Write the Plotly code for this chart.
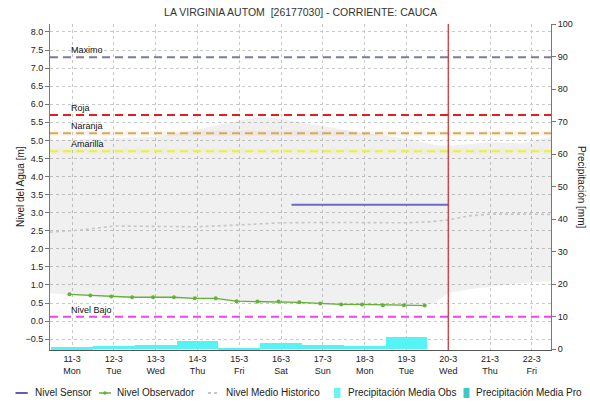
import plotly.graph_objects as go
import pandas as pd

# ---- data -------------------------------------------------------------
title = "LA VIRGINIA AUTOM  [26177030] - CORRIENTE: CAUCA"

day_ticks = pd.date_range("2024-03-11", "2024-03-22", freq="D")
tick_text = [f"{d.day}-{d.month}<br>{d.strftime('%a')}" for d in day_ticks]

x_start = "2024-03-10 11:20"
x_end = "2024-03-22 11:00"
forecast_start = "2024-03-20 00:00"

# Nivel Sensor (m)
sensor_t = ["2024-03-16 06:00", "2024-03-20 00:00"]
sensor_v = [3.22, 3.22]

# Nivel Observador (m), twice a day
obs_t = pd.date_range("2024-03-10 22:30", periods=18, freq="12h")
obs_v = [0.74, 0.71, 0.68, 0.66, 0.66, 0.66, 0.63, 0.63, 0.55,
         0.54, 0.54, 0.52, 0.49, 0.46, 0.46, 0.44, 0.44, 0.43]

# Nivel Medio Historico (m)
hist_t = ["2024-03-10 11:20", "2024-03-11 05:00", "2024-03-12 00:00",
          "2024-03-13 00:00", "2024-03-14 00:00", "2024-03-15 00:00",
          "2024-03-16 00:00", "2024-03-17 00:00", "2024-03-18 00:00",
          "2024-03-19 00:00", "2024-03-19 14:00", "2024-03-20 00:00",
          "2024-03-20 12:00", "2024-03-21 00:00", "2024-03-22 00:00",
          "2024-03-22 11:00"]
hist_v = [2.46, 2.52, 2.63, 2.63, 2.61, 2.66, 2.72, 2.73, 2.73,
          2.72, 2.75, 2.80, 2.91, 2.96, 2.96, 2.95]

# Historic range band (m)
band_t = ["2024-03-10 11:20", "2024-03-11 00:00", "2024-03-12 00:00",
          "2024-03-13 00:00", "2024-03-14 00:00", "2024-03-15 00:00",
          "2024-03-15 12:00", "2024-03-16 00:00", "2024-03-17 00:00",
          "2024-03-18 00:00", "2024-03-19 00:00", "2024-03-19 16:00",
          "2024-03-20 00:00", "2024-03-20 12:00", "2024-03-21 00:00",
          "2024-03-21 18:00", "2024-03-22 11:00"]
band_hi = [5.00, 5.02, 5.05, 5.10, 5.30, 5.55, 5.65, 5.60, 5.40,
           5.20, 5.05, 4.88, 4.85, 4.90, 4.95, 4.92, 5.10]
band_lo = [0.77, 0.72, 0.66, 0.62, 0.60, 0.52, 0.50, 0.50, 0.45,
           0.42, 0.40, 0.50, 0.78, 0.88, 0.94, 1.05, 1.11]

# Precipitación Media Obs (mm), daily
rain_t = pd.date_range("2024-03-11", "2024-03-19", freq="D")
rain_v = [0.6, 0.8, 1.2, 2.5, 0.2, 1.8, 1.2, 0.9, 3.8]

# Threshold levels (m)
thr_names = ["Maximo", "Roja", "Naranja", "Amarilla", "Nivel Bajo"]
thr_values = [7.3, 5.7, 5.2, 4.7, 0.12]
thr_colors = ["#787d98", "#dd2222", "#dba85a", "#eeee3c", "#ee44ee"]

# ---- figure -----------------------------------------------------------
FONT = "Liberation Sans, Arial, sans-serif"
fig = go.Figure()

# historic min/max band
fig.add_trace(go.Scatter(x=band_t, y=band_lo, mode="lines",
                         line=dict(width=0), hoverinfo="skip",
                         showlegend=False))
fig.add_trace(go.Scatter(x=band_t, y=band_hi, mode="lines",
                         line=dict(width=0), fill="tonexty",
                         fillcolor="rgba(0,0,0,0.06)", hoverinfo="skip",
                         showlegend=False))

# threshold lines
for name, val, col in zip(thr_names, thr_values, thr_colors):
    if name in ("Naranja", "Amarilla"):
        fig.add_trace(go.Scatter(x=[x_start, x_end], y=[val, val],
                                 mode="lines", hoverinfo="skip",
                                 line=dict(color=col, width=5),
                                 opacity=0.12, showlegend=False))
    fig.add_trace(go.Scatter(x=[x_start, x_end], y=[val, val],
                             mode="lines", name=name,
                             line=dict(color=col, width=2, dash="8px,5px"),
                             showlegend=False))
    fig.add_annotation(x="2024-03-10 22:00", y=val, text=name,
                       showarrow=False, xanchor="left", yanchor="bottom",
                       yshift=0, font=dict(family=FONT, size=9,
                                           color="#111"))

# historic mean level
fig.add_trace(go.Scatter(x=hist_t, y=hist_v, mode="lines",
                         name="Nivel Medio Historico",
                         line=dict(color="#c6c6c6", width=1.6, dash="dot"),
                         showlegend=False))

# sensor level
fig.add_trace(go.Scatter(x=sensor_t, y=sensor_v, mode="lines",
                         name="Nivel Sensor",
                         line=dict(color="#6a6ac2", width=2),
                         showlegend=False))

# observer level
fig.add_trace(go.Scatter(x=obs_t, y=obs_v, mode="lines+markers",
                         name="Nivel Observador",
                         line=dict(color="#62b236", width=1.3),
                         marker=dict(size=4, color="#62b236"),
                         showlegend=False))

# precipitation bars on the right axis
fig.add_trace(go.Bar(x=rain_t, y=rain_v, yaxis="y2",
                     name="Precipitación Media Obs",
                     width=86400000, marker=dict(color="#55f4f4",
                                                 line=dict(width=0)),
                     showlegend=False))

# current-time marker
fig.add_shape(type="line", xref="x", yref="paper",
              x0=forecast_start, x1=forecast_start, y0=0, y1=1,
              line=dict(color="#cc2b2b", width=1.2), layer="above")

# ---- custom legend row --------------------------------------------------
L, W, B, H = 50, 501, 350, 326


def px(x):
    return (x - L) / W


def py(y):
    return (B - y) / H


ly = 393
legend_items = [
    ("line", 15.5, 27.7, "#2a2aa0", "solid", "Nivel Sensor", 32.5),
    ("marker", 99, 111, "#62b236", "solid", "Nivel Observador", 115),
    ("line", 208, 218, "#b4b4b4", "dot", "Nivel Medio Historico", 223.5),
    ("box", 334, 340.5, "#66f4f4", None, "Precipitación Media Obs", 345.5),
    ("box", 463.5, 469.5, "#3fc6c6", None, "Precipitación Media Pro", 474),
]
for kind, a, b, col, dash, label, tx in legend_items:
    if kind == "box":
        fig.add_shape(type="rect", xref="paper", yref="paper",
                      x0=px(a), x1=px(b), y0=py(ly + 5), y1=py(ly - 5),
                      fillcolor=col, line=dict(width=0))
    else:
        fig.add_shape(type="line", xref="paper", yref="paper",
                      x0=px(a), x1=px(b), y0=py(ly), y1=py(ly),
                      line=dict(color=col, width=1.5, dash=dash))
        if kind == "marker":
            fig.add_shape(type="circle", xref="paper", yref="paper",
                          x0=px((a + b) / 2 - 1.8), x1=px((a + b) / 2 + 1.8),
                          y0=py(ly + 1.8), y1=py(ly - 1.8),
                          fillcolor=col, line=dict(width=0))
    fig.add_annotation(xref="paper", yref="paper", x=px(tx), y=py(ly),
                       text=label, showarrow=False, xanchor="left",
                       yanchor="middle",
                       font=dict(family=FONT, size=10, color="#222"))

# axis titles
fig.add_annotation(xref="paper", yref="paper", x=px(20), y=py(187),
                   text="Nivel del Agua [m]", textangle=-90,
                   xanchor="center", yanchor="middle",
                   showarrow=False, font=dict(family=FONT, size=10,
                                              color="#222"))
fig.add_annotation(xref="paper", yref="paper", x=px(582), y=py(187),
                   text="Precipitación [mm]", textangle=90,
                   xanchor="center", yanchor="middle",
                   showarrow=False, font=dict(family=FONT, size=10,
                                              color="#222"))

grid = dict(showgrid=True, gridcolor="#c9c9c9", griddash="dot",
            gridwidth=1)

fig.update_layout(
    width=590, height=404,
    margin=dict(l=50, r=39, t=24, b=54),
    paper_bgcolor="white", plot_bgcolor="white",
    font=dict(family=FONT, size=9, color="#222"),
    showlegend=False,
    bargap=0,
    title=dict(text=title, x=0.5, xref="paper", y=1 - 12 / 404,
               yanchor="middle",
               font=dict(family=FONT, size=10.5, color="#333")),
    xaxis=dict(type="date", range=[x_start, x_end],
               tickvals=day_ticks, ticktext=tick_text,
               ticks="", showline=True, linecolor="#555", linewidth=1,
               zeroline=False, tickfont=dict(size=9), **grid),
    yaxis=dict(range=[-0.8, 8.22], tickvals=[i * 0.5 for i in range(-1, 17)],
               tickformat=".1f", ticks="outside", ticklen=4,
               tickcolor="#777", showline=True, linecolor="#777",
               zeroline=False, tickfont=dict(size=9), **grid),
    yaxis2=dict(range=[-0.3, 100], overlaying="y", side="right",
                tickvals=list(range(0, 101, 10)), ticks="outside",
                ticklen=4, tickcolor="#777", showline=True,
                linecolor="#777", showgrid=False, zeroline=False,
                tickfont=dict(size=9)),
)

fig.write_html("out.html")
